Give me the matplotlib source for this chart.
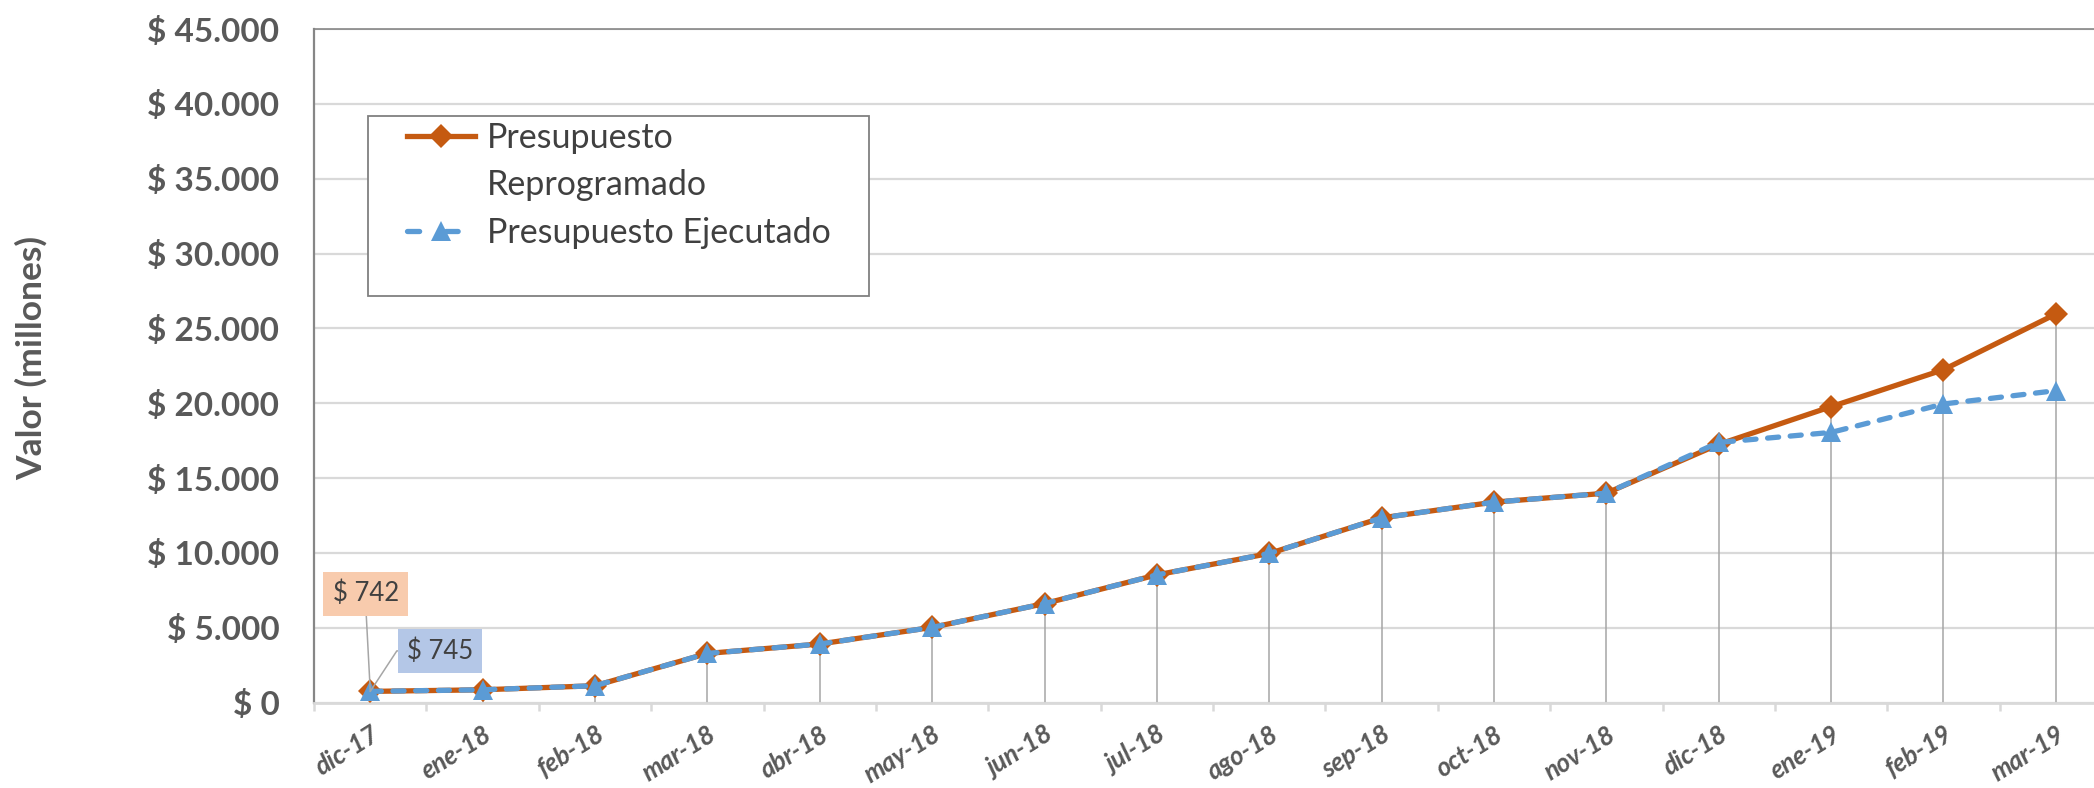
import matplotlib
matplotlib.use("Agg")
import matplotlib.pyplot as plt
from matplotlib.lines import Line2D
from matplotlib.patches import Rectangle
import numpy as np

plt.rcParams['font.family'] = ['Lato', 'DejaVu Sans']

months = ["dic-17", "ene-18", "feb-18", "mar-18", "abr-18", "may-18", "jun-18", "jul-18",
          "ago-18", "sep-18", "oct-18", "nov-18", "dic-18", "ene-19", "feb-19", "mar-19"]
reprogramado = [742, 850, 1120, 3280, 3910, 5020, 6610, 8530,
                9960, 12340, 13390, 13990, 17250, 19770, 22240, 25960]
ejecutado = [745, 850, 1120, 3280, 3910, 5020, 6610, 8530,
             9960, 12340, 13390, 13990, 17380, 18050, 19950, 20840]
y_ticks = [0, 5000, 10000, 15000, 20000, 25000, 30000, 35000, 40000, 45000]
label_reprog = "Presupuesto\nReprogramado"
label_ejec = "Presupuesto Ejecutado"

ORANGE = "#C55A11"
BLUE = "#5B9BD5"
GRAY_TXT = "#595959"
DARK_TXT = "#404040"

fig = plt.figure(figsize=(20.94, 7.88), dpi=100)
ax = fig.add_axes([0.15, 0.1085, 0.8586, 0.8545])

x = np.arange(len(months))

# drop lines
top = np.maximum(reprogramado, ejecutado)
ax.vlines(x, 0, top, colors="#A6A6A6", linewidth=1.1, zorder=1.5)

ax.plot(x, reprogramado, color=ORANGE, linewidth=3.8, marker="D", markersize=12,
        markeredgewidth=0, zorder=3, solid_capstyle="round")
ax.plot(x, ejecutado, color=BLUE, linewidth=3.8, linestyle=(0, (2.1, 2.2)),
        dash_capstyle="round", marker="^", markersize=15, markeredgewidth=0, zorder=4)

ax.set_xlim(-0.5, len(months) - 0.5)
ax.set_ylim(0, 45000)
ax.set_yticks(y_ticks)
ax.set_yticklabels(["$ " + f"{v:,}".replace(",", ".") for v in y_ticks])
ax.tick_params(axis="y", length=0, pad=25, labelsize=24, labelcolor=GRAY_TXT)
for t in ax.get_yticklabels():
    t.set_fontweight("bold")

ax.set_xticks(x)
ax.set_xticklabels(months, rotation=32, ha="right", va="top", rotation_mode="anchor")
ax.tick_params(axis="x", which="major", length=0, pad=14, labelsize=18.5, labelcolor=GRAY_TXT)
for t in ax.get_xticklabels():
    t.set_fontweight("bold")
    t.set_fontstyle("italic")
ax.set_xticks(np.arange(-0.5, len(months), 1.0), minor=True)
ax.tick_params(axis="x", which="minor", length=6, width=1.8, color="#D9D9D9")

ax.grid(axis="y", color="#D9D9D9", linewidth=1.6, zorder=0)
ax.set_axisbelow(True)

ax.spines["right"].set_visible(False)
ax.spines["left"].set_color("#868686")
ax.spines["left"].set_linewidth(1.6)
ax.spines["top"].set_color("#868686")
ax.spines["top"].set_linewidth(1.2)
ax.spines["bottom"].set_color("#D9D9D9")
ax.spines["bottom"].set_linewidth(2.0)

fig.text(31 / 2094, 1 - 358 / 788, "Valor (millones)", rotation=90, ha="center", va="center",
         fontsize=25.5, fontweight="bold", color=GRAY_TXT)

# data labels on first point
ax.annotate("$ " + str(reprogramado[0]), xy=(x[0], reprogramado[0]), xytext=(-0.04, 7270),
            ha="center", va="center", fontsize=18.5, color=DARK_TXT, zorder=6,
            bbox=dict(boxstyle="square,pad=0.36", fc="#F8CBAD", ec="none"),
            arrowprops=dict(arrowstyle="-", color="#A6A6A6", lw=1.1, relpos=(0.5, 0),
                            shrinkA=0, shrinkB=0))
ax.annotate("$ " + str(ejecutado[0]), xy=(x[0], ejecutado[0]), xytext=(0.62, 3450),
            ha="center", va="center", fontsize=18.5, color=DARK_TXT, zorder=6,
            bbox=dict(boxstyle="square,pad=0.36", fc="#B4C7E7", ec="none"),
            arrowprops=dict(arrowstyle="-", color="#A6A6A6", lw=1.1, relpos=(0, 0.5),
                            shrinkA=0, shrinkB=0,
                            connectionstyle="arc,angleA=180,armA=10,angleB=60,armB=0,rad=0"))

# legend box
ax.add_patch(Rectangle((0.030, 0.6036), 0.2787, 0.2672, transform=ax.transAxes,
                       facecolor="white", edgecolor="#808080", linewidth=1.3, zorder=7))
handles = [Line2D([], [], color=ORANGE, linewidth=3.8, marker="D", markersize=12, markeredgewidth=0),
           Line2D([], [], linestyle="none"),
           Line2D([], [], color=BLUE, linewidth=3.8, linestyle=(0, (2.3, 5.0)), dash_capstyle="round",
                  marker="^", markersize=15, markeredgewidth=0)]
lab1, lab2 = label_reprog.split("\n")
leg = ax.legend(handles, [lab1, lab2, label_ejec], loc="upper left",
                bbox_to_anchor=((407 - 314) / 1798, (702.5 - 122) / 673.5),
                frameon=False, fontsize=24.5, labelcolor=DARK_TXT, borderpad=0, borderaxespad=0,
                handlelength=2.0, handletextpad=0.35, labelspacing=0.45)
leg.set_zorder(8)

fig.savefig("out.png", dpi=100)
